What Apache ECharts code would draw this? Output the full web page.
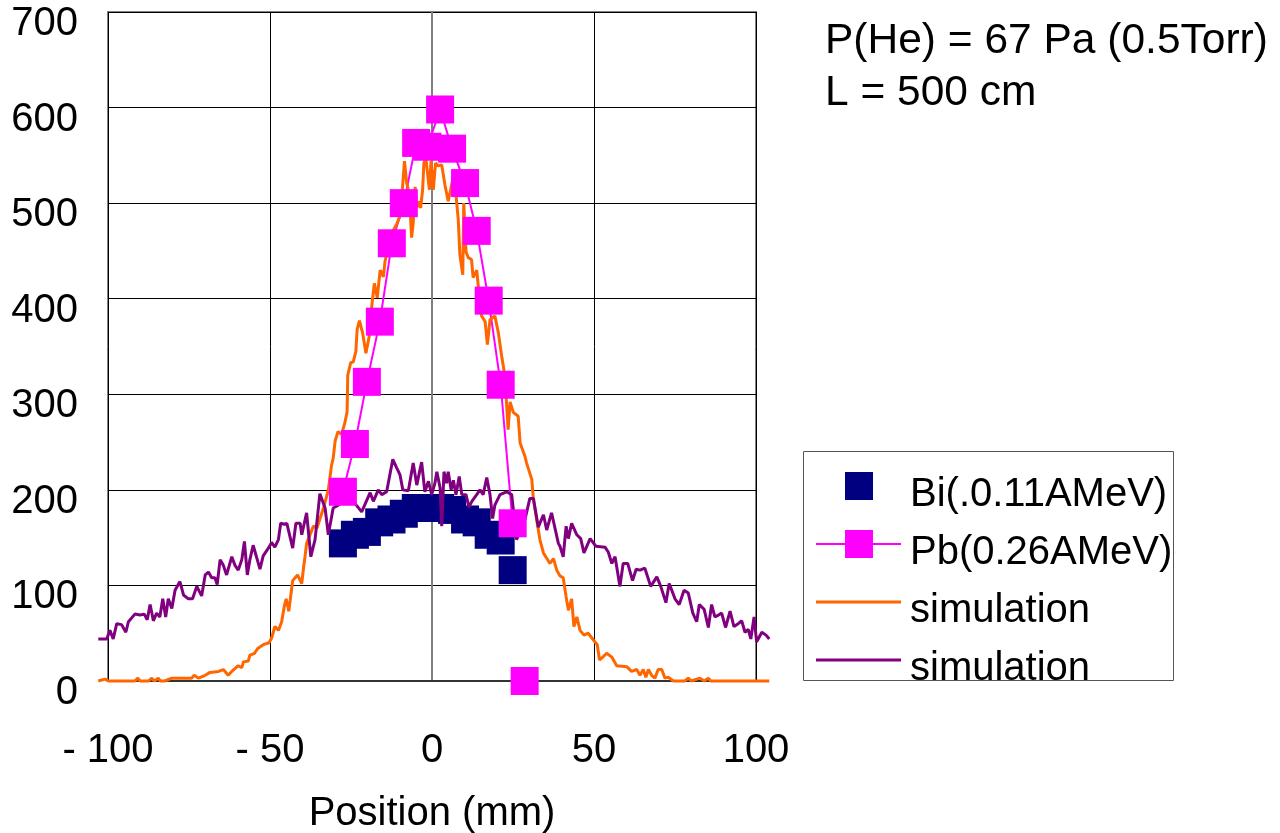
<!DOCTYPE html>
<html>
<head>
<meta charset="utf-8">
<script src="https://cdn.jsdelivr.net/npm/echarts@6/dist/echarts.min.js"></script>
<style>
html,body{margin:0;padding:0;background:#fff;}
#chart{width:1280px;height:833px;}
</style>
</head>
<body>
<div id="chart"></div>
<script>
// ---- data ----
const seriesNames = ['Bi(.0.11AMeV)', 'Pb(0.26AMeV)', 'simulation', 'simulation '];
const xTicks = [-100, -50, 0, 50, 100];
const yTicks = [0, 100, 200, 300, 400, 500, 600, 700];
const simRange = [-103.1, 104.2];   // x extent of the simulation traces (they run past the frame)
const annotation = ['P(He) = 67 Pa (0.5Torr)', 'L = 500 cm'];

const biData = [
  [-27.5,144],[-23.8,153],[-20.1,156],[-16.3,166],[-12.5,169],[-8.7,175],[-5.0,181],
  [-1.2,181],[2.5,181],[6.2,179],[10.2,169],[13.8,166],[17.5,153],[21.2,147],[24.9,116]
];
const pbData = [
  [-27.5,198],[-23.8,248],[-20.1,313],[-16.1,376],[-12.4,458],[-8.7,500],[-4.9,563],
  [-1.4,559],[2.5,598],[6.2,557],[10.2,521],[13.8,471],[17.5,398],[21.2,310],[24.9,165],
  [26.8,'-'],[28.6,0]
];
const simOrange = [
  [-103,0],[-100.9,2],[-99.9,0],[-91.7,0],[-90.8,3],[-90.1,0],[-87.5,0],[-86.5,3],[-85.7,0],
  [-84.5,3],[-83.8,0],[-82.5,0],[-80.3,3],[-74.2,3],[-73.4,6],[-72.1,3],[-70,6],[-68.5,9],
  [-65.9,10],[-64.4,12],[-62.9,6],[-61.8,10],[-59.8,16],[-58.7,14],[-58.2,20],[-56.7,21],
  [-56.2,27],[-54.8,29],[-53.8,34],[-52.1,38],[-50.3,40],[-49.5,45],[-48.5,57],[-47.4,53],
  [-46.4,62],[-45.6,78],[-45.0,86],[-44.2,73],[-43,105],[-41.5,111],[-40.2,102],[-39.6,120],
  [-39.2,130],[-38.7,144],[-36.6,162],[-35.5,160],[-33.5,181],[-32,200],[-31,226],[-30.5,233],
  [-29.9,251],[-29,261],[-27.9,258],[-26.9,270],[-26.2,282],[-26.0,320],[-25.1,333],[-24.3,334],
  [-23.5,345],[-23.1,368],[-22.4,377],[-21.4,364],[-20.4,343],[-19.3,362],[-18.6,392],[-17.8,416],
  [-16.9,401],[-16,430],[-15,423],[-14.5,439],[-13.5,455],[-11.9,472],[-10.9,478],[-9.7,488],
  [-9.0,521],[-8.5,544],[-8,546],[-7.8,521],[-7.3,514],[-6.8,497],[-6.3,464],[-5.8,479],
  [-5.2,517],[-4.7,495],[-4.2,502],[-3.5,495],[-2.9,514],[-2.5,542],[-1.9,547],[-1.5,535],
  [-0.8,514],[-0.3,544],[0.4,514],[1.1,542],[1.9,539],[3,540],[3.5,542],[4,519],[5,502],
  [5.6,504],[6.6,528],[7.4,509],[8.1,483],[8.6,446],[9.5,425],[9.8,500],[10.5,449],[11.2,443],
  [12.2,441],[12.7,422],[13.8,430],[14.3,413],[15.3,382],[16.4,376],[17.1,352],[17.9,378],
  [19.4,382],[20.5,364],[21.5,340],[22.5,319],[23.5,263],[24.1,292],[25.1,281],[26.6,277],
  [27.2,249],[28.7,235],[29.2,228],[30.8,211],[31.3,190],[33.3,148],[34.4,134],[36.4,123],
  [37.5,128],[38.5,116],[39.5,110],[40.5,108],[41.4,88],[42.1,74],[43.1,86],[43.8,57],
  [44.7,67],[45.7,53],[46.9,48],[48.2,50],[49.8,43],[51,38],[51.7,22],[52.7,25],[53.9,29],
  [55.5,25],[57,16],[60.1,15],[61.6,10],[63.2,12],[64.2,6],[65.2,12],[66,4],[66.8,12],
  [67.8,6],[68.8,3],[69.8,12],[70.9,12],[71.9,3],[72.9,4],[74.5,0],[78,0],[79.1,3],[80,0],
  [82.7,3],[84,0],[85.3,3],[86,0],[104.1,0]
];
const simPurple = [
  [-103,44],[-100.4,44],[-99.4,53],[-98.4,44],[-97.3,60],[-95.8,59],[-94.5,51],[-93.7,62],
  [-91.7,70],[-90.1,69],[-88.8,70],[-87.9,64],[-87,80],[-86,63],[-85,71],[-84,67],[-83.1,86],
  [-82.2,67],[-81.4,86],[-80.3,76],[-79.3,95],[-77.8,104],[-76.7,90],[-75.2,86],[-73.9,86],
  [-72.6,99],[-71.1,89],[-70,111],[-69,114],[-68,108],[-67,108],[-66.3,101],[-65.4,127],
  [-64.4,121],[-63.4,111],[-61.8,130],[-60.8,121],[-59.8,116],[-58.7,127],[-57.9,146],[-57,111],
  [-56.2,127],[-55.2,142],[-54.1,129],[-53.1,117],[-52.1,131],[-50.5,139],[-49.5,145],[-48.5,140],
  [-47.4,148],[-46.7,165],[-45.6,164],[-44.8,165],[-43,139],[-42,165],[-40.7,165],[-40.2,153],
  [-38.7,176],[-37.4,130],[-36.1,148],[-34.6,196],[-33,181],[-32,153],[-30.5,181],[-28.9,184],
  [-27.9,189],[-25.5,197],[-24.3,188],[-21.7,177],[-19.1,197],[-18.1,188],[-16.6,200],[-15.5,195],
  [-14,198],[-12.1,232],[-10.9,223],[-9.9,216],[-9,200],[-7.3,199],[-5.8,228],[-4.7,205],
  [-3.9,218],[-3.2,229],[-2.2,198],[-1.1,209],[-0.1,195],[0.9,207],[1.5,219],[2.5,202],[3,162],
  [3.7,219],[4.5,207],[5,219],[5.9,200],[6.6,210],[7.4,195],[8.4,214],[9.2,195],[10.5,195],
  [11.4,182],[12.3,188],[13.8,195],[14.8,200],[15.8,195],[16.9,213],[17.9,195],[18.7,170],
  [19.4,184],[21,195],[23,198],[24.6,195],[26.1,148],[28.7,169],[30.2,191],[31.3,191],
  [32.8,161],[34.4,174],[35.4,158],[36.9,176],[39,144],[39.5,141],[40.5,130],[41.4,162],
  [42.1,149],[43.1,165],[44.7,153],[45.9,149],[46.9,134],[48.8,149],[50.6,141],[53.4,140],
  [54.4,135],[55.5,123],[56.5,130],[58,99],[59,123],[60.4,123],[61.9,105],[63,117],[64.2,116],
  [65.7,118],[67.5,99],[69.4,109],[70.6,99],[72.2,82],[73.2,102],[75,86],[76.3,80],[77.8,95],
  [79.1,92],[80.5,71],[81.7,62],[82.5,80],[84,75],[85.3,56],[86.3,80],[87.3,67],[88.4,69],
  [89.4,71],[90.6,56],[92,73],[93.2,57],[94.5,60],[95.6,63],[96.6,51],[97.6,54],[98.4,44],
  [99.4,67],[100.2,41],[101.8,51],[103.1,48],[104.1,44]
];

// ---- chart ----
const FONT = "'Liberation Sans', Arial, sans-serif";
const colors = ['#000080', '#FF00FF', '#FF6600', '#800080'];
const chart = echarts.init(document.getElementById('chart'), null, {renderer: 'canvas'});

// plot frame geometry
const G = {left: 108, top: 12, width: 648, height: 669};
const xMin = xTicks[0], xMax = xTicks[xTicks.length - 1];
const pxPerUnit = G.width / (xMax - xMin);
// a second, invisible grid with the same scale but wider extent, so the traces may run past the frame
const G2 = {
  left: G.left + (simRange[0] - xMin) * pxPerUnit,
  top: G.top,
  width: (simRange[1] - simRange[0]) * pxPerUnit,
  height: G.height
};

const iconBi = 'path://M0,0M89,46M29,0h28v28h-28z';
const iconPb = 'path://M0,0M89,46M0,13h85v2h-85zM29,0h28v28h-28z';
const iconLine = 'path://M0,0M89,46M0,12.5h85v3h-85z';

chart.setOption({
  animation: false,
  backgroundColor: '#fff',
  grid: [
    Object.assign({show: true, borderColor: '#808080', borderWidth: 2, backgroundColor: 'transparent',
                   containLabel: false, outerBoundsMode: 'none'}, G),
    Object.assign({show: false, containLabel: false, outerBoundsMode: 'none'}, G2)
  ],
  xAxis: [{
    type: 'value', gridIndex: 0, min: xMin, max: xMax, interval: 50,
    name: 'Position (mm)', nameLocation: 'middle', nameGap: 113,
    nameTextStyle: {fontSize: 40, fontFamily: FONT, color: '#000'},
    axisLine: {show: true, onZero: false, lineStyle: {color: '#333', width: 2}},
    axisTick: {show: false},
    splitLine: {show: true, lineStyle: {color: '#000', width: 1}},
    axisLabel: {
      fontSize: 40, fontFamily: FONT, color: '#000', margin: 50,
      formatter: v => (v < 0 ? '- ' + Math.abs(v) : String(v))
    }
  }, {
    type: 'value', gridIndex: 1, min: simRange[0], max: simRange[1], show: false,
    splitLine: {show: false}
  }],
  yAxis: [{
    type: 'value', gridIndex: 0, min: yTicks[0], max: yTicks[yTicks.length - 1], interval: 100,
    axisLine: {show: true, lineStyle: {color: '#808080', width: 2}},
    axisTick: {show: false},
    splitLine: {show: true, lineStyle: {color: '#000', width: 1}},
    axisLabel: {fontSize: 40, fontFamily: FONT, color: '#000', margin: 30, verticalAlign: 'top', lineHeight: 24}
  }, {
    type: 'value', gridIndex: 1, min: yTicks[0], max: yTicks[yTicks.length - 1], show: false,
    splitLine: {show: false}
  }],
  legend: {
    orient: 'vertical', left: 816, top: 472, padding: 0,
    itemWidth: 89, itemHeight: 46, itemGap: 12,
    selectedMode: false,
    textStyle: {fontSize: 40, fontFamily: FONT, color: '#000'},
    data: [
      {name: seriesNames[0], icon: iconBi, itemStyle: {color: colors[0], borderWidth: 0, opacity: 1}},
      {name: seriesNames[1], icon: iconPb, itemStyle: {color: colors[1], borderWidth: 0, opacity: 1}},
      {name: seriesNames[2], icon: iconLine, itemStyle: {color: colors[2], borderWidth: 0, opacity: 1}},
      {name: seriesNames[3], icon: iconLine, itemStyle: {color: colors[3], borderWidth: 0, opacity: 1}}
    ]
  },
  graphic: [
    {type: 'rect', shape: {x: 803.5, y: 451.5, width: 370, height: 229}, style: {fill: 'none', stroke: '#555', lineWidth: 1}, z: 50},
    {type: 'rect', shape: {x: 803, y: 682, width: 372, height: 40}, style: {fill: '#fff'}, z: 100},
    {type: 'text', x: 825, y: 41, style: {text: annotation[0], fontSize: 42.5, fontFamily: FONT, fill: '#000', verticalAlign: 'middle'}, z: 50},
    {type: 'text', x: 825, y: 93, style: {text: annotation[1], fontSize: 42.5, fontFamily: FONT, fill: '#000', verticalAlign: 'middle'}, z: 50}
  ],
  series: [
    {name: seriesNames[0], type: 'scatter', xAxisIndex: 0, yAxisIndex: 0, data: biData, symbol: 'rect', symbolSize: 28,
     itemStyle: {color: colors[0], opacity: 1}, clip: false, emphasis: {disabled: true}},
    {name: seriesNames[1], type: 'line', xAxisIndex: 0, yAxisIndex: 0, data: pbData, symbol: 'rect', symbolSize: 28, showSymbol: true,
     connectNulls: false, itemStyle: {color: colors[1], opacity: 1}, lineStyle: {color: colors[1], width: 2},
     clip: false, emphasis: {disabled: true}},
    {name: seriesNames[2], type: 'line', xAxisIndex: 1, yAxisIndex: 1, data: simOrange, symbol: 'none', showSymbol: false,
     itemStyle: {color: colors[2]}, lineStyle: {color: colors[2], width: 3}, clip: false, emphasis: {disabled: true}},
    {name: seriesNames[3], type: 'line', xAxisIndex: 1, yAxisIndex: 1, data: simPurple, symbol: 'none', showSymbol: false,
     itemStyle: {color: colors[3]}, lineStyle: {color: colors[3], width: 3}, clip: false, emphasis: {disabled: true}}
  ]
});
</script>
</body>
</html>
